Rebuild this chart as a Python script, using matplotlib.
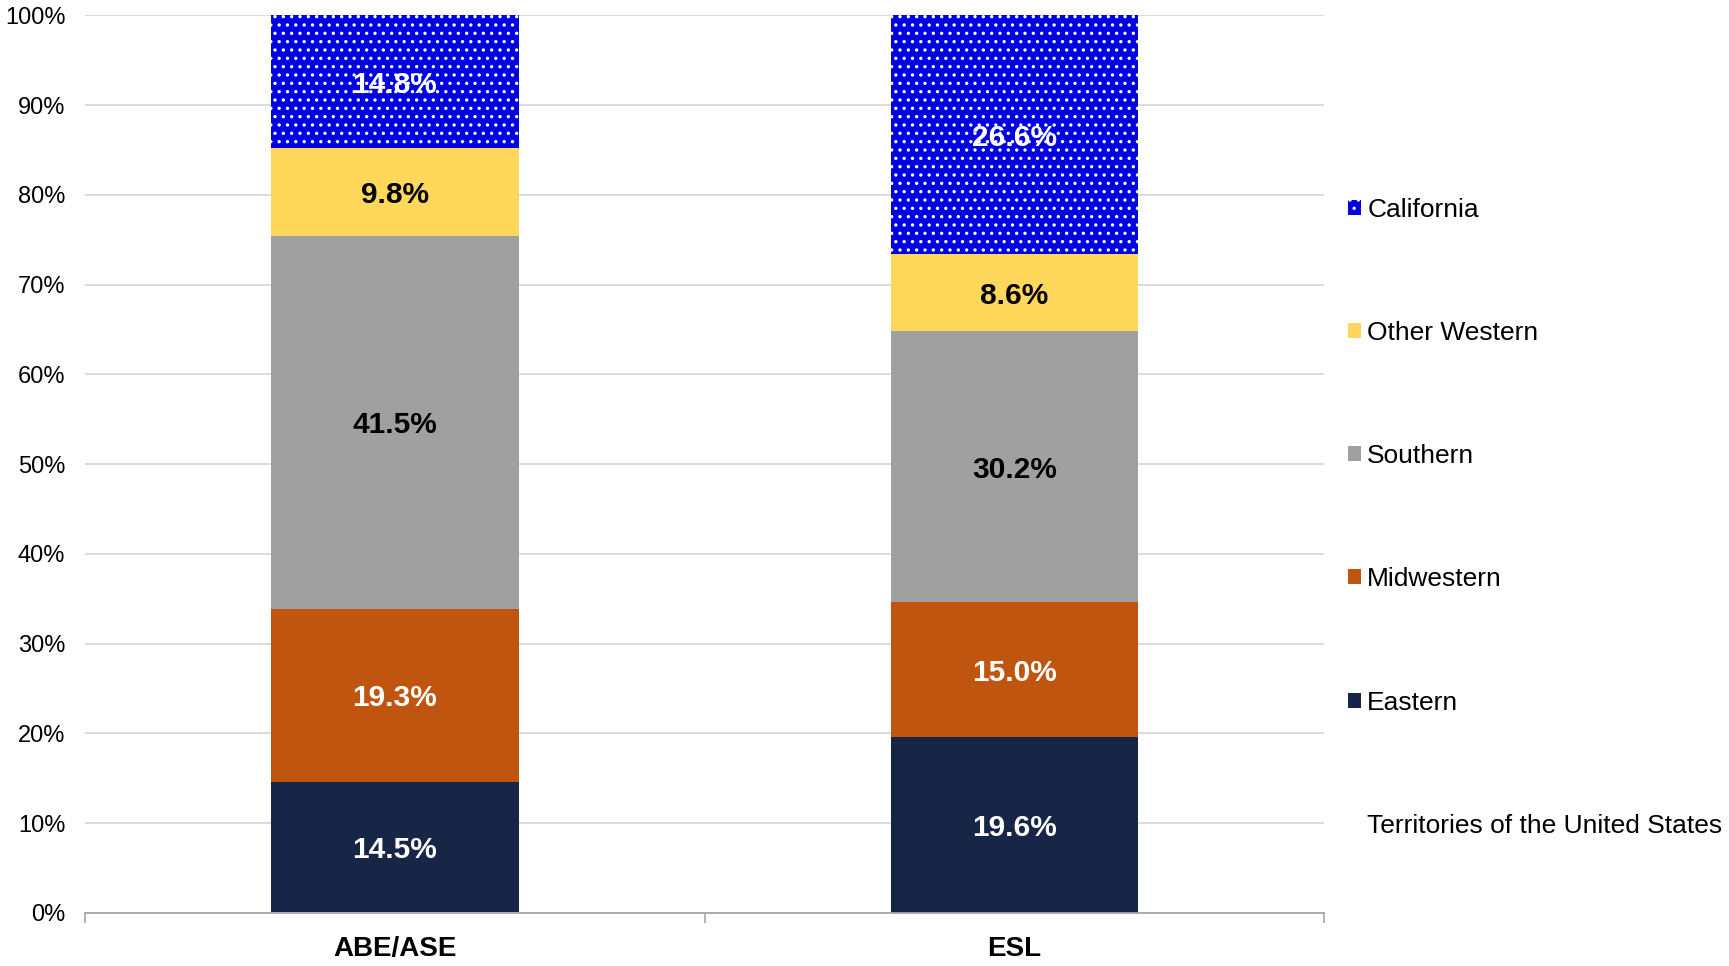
import matplotlib
matplotlib.use("Agg")
from matplotlib import pyplot as plt
from matplotlib.patches import Patch
from matplotlib.ticker import PercentFormatter

plt.rcParams['font.family'] = ['Liberation Sans', 'DejaVu Sans']
plt.rcParams['hatch.linewidth'] = 1.2

categories = ["ABE/ASE", "ESL"]
regions = ["Territories of the United States", "Eastern", "Midwestern",
           "Southern", "Other Western", "California"]
territories = [0.1, 0.0]
eastern = [14.5, 19.6]
midwestern = [19.3, 15.0]
southern = [41.5, 30.2]
other_western = [9.8, 8.6]
california = [14.8, 26.6]

series = [territories, eastern, midwestern, southern, other_western, california]
colors = ["#FFFFFF", "#172646", "#C05510", "#A0A0A0", "#FFD75A", "#0000E0"]
label_colors = [None, "white", "white", "black", "black", "white"]

fig = plt.figure(figsize=(17.29, 9.66), dpi=100)
ax = fig.add_axes([0.049, 0.055, 0.717, 0.929])

x = range(len(categories))
bottom = [0.0, 0.0]
for name, vals, col, lc in zip(regions, series, colors, label_colors):
    if name == "California":
        bars = ax.bar(x, vals, 0.4, bottom=bottom, color=col, edgecolor="white",
                      linewidth=0, hatch="..", zorder=2)
    else:
        bars = ax.bar(x, vals, 0.4, bottom=bottom, color=col, linewidth=0, zorder=2)
    if lc is not None:
        for xi, v, b in zip(x, vals, bottom):
            ax.text(xi, b + v / 2, f"{v:.1f}%", ha="center", va="center_baseline",
                    color=lc, fontsize=21.5, fontweight="bold", zorder=3)
    bottom = [b + v for b, v in zip(bottom, vals)]

ax.set_xlim(-0.5, 1.5)
ax.set_ylim(0, 100)
ax.set_yticks(range(0, 101, 10))
ax.yaxis.set_major_formatter(PercentFormatter(decimals=0))
ax.tick_params(axis="y", length=0, labelsize=17, pad=14)
ax.set_xticks(list(x))
ax.set_xticklabels(categories, fontsize=20, fontweight="bold")
ax.tick_params(axis="x", length=0, pad=17)
# separators on the category axis
ax.set_xticks([-0.5, 0.5, 1.5], minor=True)
ax.tick_params(axis="x", which="minor", length=7, color="#A6A6A6", width=1.2)
ax.grid(axis="y", color="#D9D9D9", linewidth=1.3, zorder=0)
for s in ["left", "right", "top"]:
    ax.spines[s].set_visible(False)
ax.spines["bottom"].set_color("#A6A6A6")
ax.spines["bottom"].set_linewidth(1.3)
ax.spines["bottom"].set_zorder(4)

handles = []
for name, col in zip(regions[::-1], colors[::-1]):
    if name == "California":
        handles.append(Patch(facecolor=col, edgecolor="white", linewidth=0, hatch="..", label=name))
    else:
        handles.append(Patch(facecolor=col, linewidth=0, label=name))
leg = fig.legend(handles=handles, loc="upper left", bbox_to_anchor=(0.766, 0.820),
                 frameon=False, fontsize=19, handlelength=0.5, handleheight=0.5,
                 handletextpad=0.22, labelspacing=3.76)

fig.savefig("out.png", dpi=100)
